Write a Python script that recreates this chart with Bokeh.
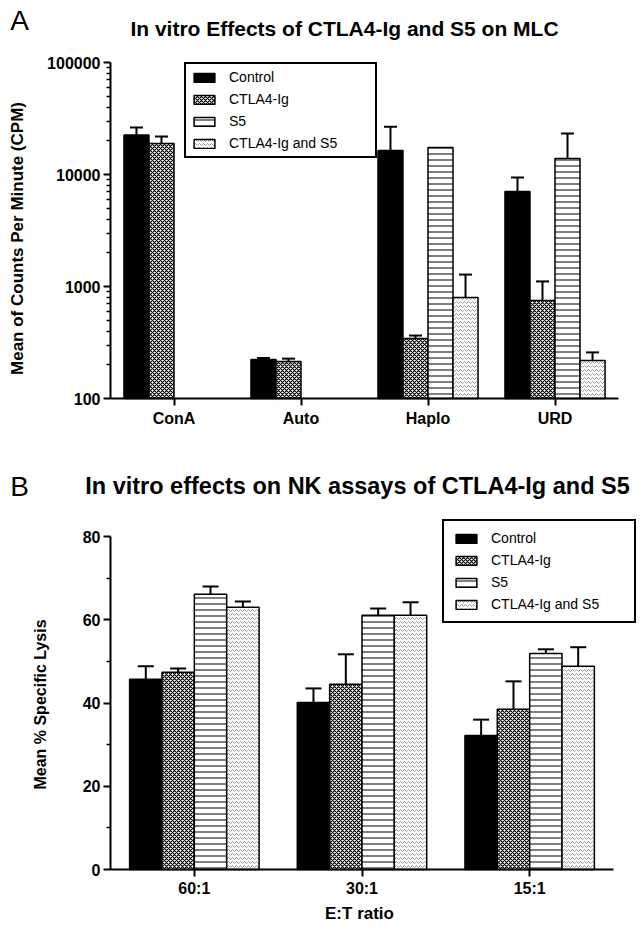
import math
from bokeh.plotting import figure
from bokeh.models import (ColumnDataSource, Range1d, Whisker, TeeHead, Legend, LegendItem,
                          Label, FixedTicker, NumeralTickFormatter, LinearAxis, LogAxis,
                          LogScale, LinearScale)
from bokeh.embed import file_html
from bokeh.resources import INLINE

# ---------------- data ----------------
series_names = ["Control", "CTLA4-Ig", "S5", "CTLA4-Ig and S5"]

mlc_title = "In vitro Effects of CTLA4-Ig and S5 on MLC"
mlc_ylabel = "Mean of Counts Per Minute (CPM)"
mlc_categories = ["ConA", "Auto", "Haplo", "URD"]
mlc_control = [22500, 223, 16400, 7050]
mlc_control_err = [3800, 7, 10300, 2350]
mlc_ctla4 = [18900, 214, 343, 750]
mlc_ctla4_err = [2900, 13, 22, 360]
mlc_s5 = [None, None, 17400, 13900]
mlc_s5_err = [None, None, 0, 9300]
mlc_combo = [None, None, 798, 218]
mlc_combo_err = [None, None, 480, 40]
mlc_yticks = [100, 1000, 10000, 100000]

nk_title = "In vitro effects on NK assays of CTLA4-Ig and S5"
nk_ylabel = "Mean % Specific Lysis"
nk_xlabel = "E:T ratio"
nk_categories = ["60:1", "30:1", "15:1"]
nk_control = [45.7, 40.1, 32.2]
nk_control_err = [3.1, 3.4, 3.8]
nk_ctla4 = [47.4, 44.5, 38.5]
nk_ctla4_err = [0.9, 7.2, 6.7]
nk_s5 = [66.1, 61.1, 51.9]
nk_s5_err = [1.9, 1.6, 1.0]
nk_combo = [63.0, 61.1, 48.8]
nk_combo_err = [1.4, 3.1, 4.6]
nk_yticks = [0, 20, 40, 60, 80]
nk_yminor = [10, 30, 50, 70]

# ---------------- layout (page pixels) ----------------
W, H = 640, 926
FONT = "Liberation Sans"
A_L, A_R, A_T, A_B = 110, 618, 62, 398     # panel A plot area
B_L, B_R, B_T, B_B = 110, 613, 536, 869    # panel B plot area

STYLES = [
    dict(fill_color="black"),
    dict(fill_color="white", hatch_pattern="diagonal_cross", hatch_color="black",
         hatch_scale=4, hatch_weight=1.2),
    dict(fill_color="white", hatch_pattern="horizontal_line", hatch_color="black",
         hatch_scale=6, hatch_weight=1),
    dict(fill_color="white", hatch_pattern="horizontal_wave", hatch_color="#9a9a9a",
         hatch_scale=4, hatch_weight=1),
]

p = figure(width=W, height=H, x_range=Range1d(0, W), y_range=Range1d(H, 0),
           x_axis_location=None, y_axis_location=None, min_border=0,
           output_backend="svg", toolbar_location=None,
           background_fill_color="white", border_fill_color="white")
p.outline_line_color = None
p.grid.visible = False

# panel A ranges: categories at 1..n, plot area spans 0.5..n+0.5
nA = len(mlc_categories)
sxA = (A_R - A_L) / nA
p.extra_x_ranges["a"] = Range1d(0.5 - A_L / sxA, 0.5 + (W - A_L) / sxA)
dec = (A_B - A_T) / (math.log10(mlc_yticks[-1]) - math.log10(mlc_yticks[0]))
p.extra_y_ranges["a"] = Range1d(10 ** (math.log10(mlc_yticks[0]) - (H - A_B) / dec),
                                10 ** (math.log10(mlc_yticks[-1]) + A_T / dec))
p.extra_x_scales["a"] = LinearScale()
p.extra_y_scales["a"] = LogScale()

nB = len(nk_categories)
sxB = (B_R - B_L) / nB
p.extra_x_ranges["b"] = Range1d(0.5 - B_L / sxB, 0.5 + (W - B_L) / sxB)
syB = (B_B - B_T) / (nk_yticks[-1] - nk_yticks[0])
p.extra_y_ranges["b"] = Range1d(nk_yticks[0] - (H - B_B) / syB, nk_yticks[-1] + B_T / syB)
p.extra_x_scales["b"] = LinearScale()
p.extra_y_scales["b"] = LinearScale()


def style_axis(ax, standoff):
    ax.axis_line_width = 2
    ax.axis_line_color = "black"
    ax.major_tick_line_width = 2
    ax.major_tick_line_color = "black"
    ax.major_tick_out = 7
    ax.major_tick_in = 0
    ax.minor_tick_line_width = 1.5
    ax.minor_tick_line_color = "black"
    ax.minor_tick_out = 4
    ax.minor_tick_in = 0
    ax.major_label_text_font = FONT
    ax.major_label_text_font_style = "bold"
    ax.major_label_text_font_size = "16px"
    ax.major_label_text_color = "black"
    ax.major_label_standoff = standoff


def add_series(rng, cats, vals, errs, i, width, bottom, cap):
    off = (i - 1.5) * width
    xs = [k + 1 + off for k, v in enumerate(vals) if v is not None]
    tops = [v for v in vals if v is not None]
    src = ColumnDataSource(dict(x=xs, top=tops))
    r = p.vbar(x="x", top="top", bottom=bottom, width=width, source=src,
               x_range_name=rng, y_range_name=rng,
               line_color="black", line_width=1.5, **STYLES[i])
    wx, wl, wu = [], [], []
    for k, (v, e) in enumerate(zip(vals, errs)):
        if v is None or not e:
            continue
        wx.append(k + 1 + off)
        wl.append(v)
        wu.append(v + e)
    wsrc = ColumnDataSource(dict(x=wx, lower=wl, upper=wu))
    w = Whisker(source=wsrc, base="x", lower="lower", upper="upper", dimension="height",
                x_range_name=rng, y_range_name=rng,
                line_color="black", line_width=2,
                upper_head=TeeHead(size=cap, line_color="black", line_width=2),
                lower_head=None)
    p.add_layout(w)
    return r


def add_legend(renderers, left, bottom_y, pad, spacing, label_width):
    items = [LegendItem(label=n, renderers=[r]) for n, r in zip(series_names, renderers)]
    lg = Legend(items=items, location=(left, H - bottom_y))
    lg.border_line_color = "black"
    lg.border_line_width = 2
    lg.border_line_alpha = 1
    lg.background_fill_color = "white"
    lg.background_fill_alpha = 1
    lg.padding = pad
    lg.margin = 0
    lg.spacing = spacing
    lg.glyph_width = 26
    lg.glyph_height = 11
    lg.label_height = 14
    lg.label_width = label_width
    lg.label_standoff = 12
    lg.label_text_font = FONT
    lg.label_text_font_size = "14px"
    lg.label_text_color = "black"
    lg.label_text_baseline = "middle"
    p.add_layout(lg)


def text(x, y, s, size, bold=True, angle=0.0):
    p.add_layout(Label(x=x, y=y, text=s, text_font=FONT,
                       text_font_style="bold" if bold else "normal",
                       text_font_size=size, text_color="black",
                       text_align="center", text_baseline="middle", angle=angle))


# ---------------- Panel A ----------------
xa = LinearAxis(x_range_name="a", y_range_name="a", fixed_location=mlc_yticks[0],
                bounds=(0.5, nA + 0.5),
                ticker=FixedTicker(ticks=list(range(1, nA + 1)), minor_ticks=[]),
                major_label_overrides={k + 1: c for k, c in enumerate(mlc_categories)})
style_axis(xa, 4)
p.add_layout(xa, "below")
ya = LogAxis(x_range_name="a", y_range_name="a", fixed_location=0.5,
             bounds=(mlc_yticks[0], mlc_yticks[-1]),
             ticker=FixedTicker(ticks=mlc_yticks,
                                minor_ticks=[m * t for t in mlc_yticks[:-1] for m in range(2, 10)]),
             formatter=NumeralTickFormatter(format="0"))
style_axis(ya, 3)
p.add_layout(ya, "left")

wa = 0.197
mlc_vals = [mlc_control, mlc_ctla4, mlc_s5, mlc_combo]
mlc_errs = [mlc_control_err, mlc_ctla4_err, mlc_s5_err, mlc_combo_err]
ra = [add_series("a", mlc_categories, v, e, i, wa, mlc_yticks[0], 13)
      for i, (v, e) in enumerate(zip(mlc_vals, mlc_errs))]
add_legend(ra, 184, 158, 5, 6, 141)

text(344, 27.5, mlc_title, "21px")
text(19, 20, "A", "28px", bold=False)
text(17, 238, mlc_ylabel, "17px", angle=math.pi / 2)

# ---------------- Panel B ----------------
xb = LinearAxis(x_range_name="b", y_range_name="b", fixed_location=nk_yticks[0],
                bounds=(0.5, nB + 0.5),
                ticker=FixedTicker(ticks=list(range(1, nB + 1)), minor_ticks=[]),
                major_label_overrides={k + 1: c for k, c in enumerate(nk_categories)})
style_axis(xb, 3)
p.add_layout(xb, "below")
yb = LinearAxis(x_range_name="b", y_range_name="b", fixed_location=0.5,
                bounds=(nk_yticks[0], nk_yticks[-1]),
                ticker=FixedTicker(ticks=nk_yticks, minor_ticks=nk_yminor))
style_axis(yb, 3)
p.add_layout(yb, "left")

wb = 0.193
nk_vals = [nk_control, nk_ctla4, nk_s5, nk_combo]
nk_errs = [nk_control_err, nk_ctla4_err, nk_s5_err, nk_combo_err]
rb = [add_series("b", nk_categories, v, e, i, wb, nk_yticks[0], 16)
      for i, (v, e) in enumerate(zip(nk_vals, nk_errs))]
add_legend(rb, 442, 623, 9, 6, 134)

text(357, 485, nk_title, "23.5px")
text(19, 486, "B", "28px", bold=False)
text(40, 704, nk_ylabel, "16px", angle=math.pi / 2)
text(359, 913, nk_xlabel, "17px")

open("out.html", "w").write(file_html(p, INLINE))
